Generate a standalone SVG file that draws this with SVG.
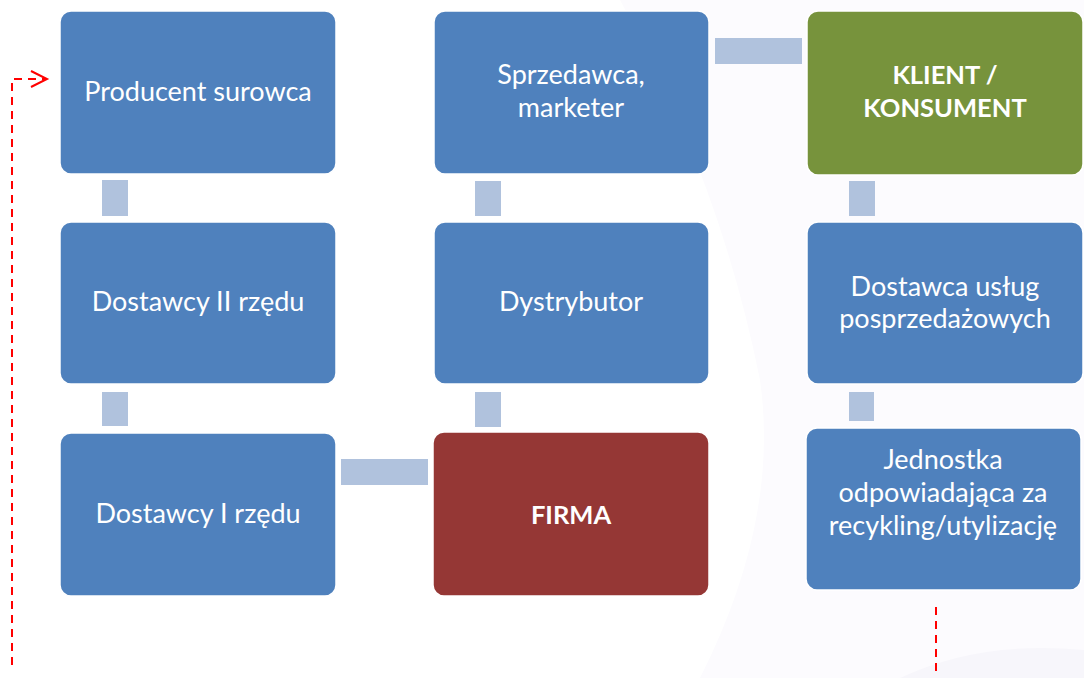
<svg xmlns="http://www.w3.org/2000/svg" width="1084" height="678" viewBox="0 0 1084 678">
<defs>
<style>
.box{stroke:#ffffff;stroke-width:1.5}
.blue{fill:#4f81bd}
.green{fill:#77933c}
.red{fill:#953735}
.con{fill:#b0c2dd}
.t{font-family:Lato,"Open Sans","Liberation Sans",sans-serif;font-size:27px;fill:#ffffff;text-anchor:middle}
.b{font-weight:bold;font-size:25.5px}
.dash{fill:none;stroke:#ff0000;stroke-width:2;stroke-dasharray:8,6}
</style>
</defs>
<rect width="1084" height="678" fill="#ffffff"/>
<path d="M620 0 L1084 0 L1084 678 L700 678 Q780 520 760 380 Q720 180 620 0 Z" fill="#fcfbfe"/>
<path d="M900 678 Q980 640 1084 650 L1084 678 Z" fill="#f7f6fb"/>
<g id="connectors">
<rect class="con" x="102" y="180" width="26" height="36"/>
<rect class="con" x="102" y="392" width="26" height="34"/>
<rect class="con" x="475" y="181" width="26" height="35"/>
<rect class="con" x="475" y="392" width="26" height="35"/>
<rect class="con" x="341" y="459" width="87" height="26"/>
<rect class="con" x="715" y="38" width="87" height="26"/>
<rect class="con" x="849" y="181" width="26" height="35"/>
<rect class="con" x="849" y="392" width="25" height="29"/>
<path class="dash" d="M12 665 L12 79 L45 79"/>
<path d="M31 71 L47 79 L31 87" fill="none" stroke="#ff0000" stroke-width="2"/>
<path class="dash" d="M936 607 L936 672"/>
</g>
<g id="producent">
<rect class="box blue" x="60" y="11" width="276" height="163" rx="11"/>
<text class="t" x="198" y="101">Producent surowca</text>
</g>
<g id="dostawcy2">
<rect class="box blue" x="60" y="222" width="276" height="162" rx="11"/>
<text class="t" x="198" y="311">Dostawcy II rzędu</text>
</g>
<g id="dostawcy1">
<rect class="box blue" x="60" y="433" width="276" height="163" rx="11"/>
<text class="t" x="198" y="523">Dostawcy I rzędu</text>
</g>
<g id="sprzedawca">
<rect class="box blue" x="434" y="11" width="275" height="163" rx="11"/>
<text class="t" x="571" y="84">Sprzedawca,</text>
<text class="t" x="571" y="117">marketer</text>
</g>
<g id="dystrybutor">
<rect class="box blue" x="434" y="222" width="275" height="162" rx="11"/>
<text class="t" x="571" y="311">Dystrybutor</text>
</g>
<g id="firma">
<rect class="box red" x="433" y="432" width="276" height="164" rx="11"/>
<text class="t b" x="571" y="524">FIRMA</text>
</g>
<g id="klient">
<rect class="box green" x="807" y="11" width="276" height="164" rx="11"/>
<text class="t b" x="945" y="84">KLIENT /</text>
<text class="t b" x="945" y="117">KONSUMENT</text>
</g>
<g id="dostawca-uslug">
<rect class="box blue" x="807" y="222" width="276" height="162" rx="11"/>
<text class="t" x="945" y="296">Dostawca usług</text>
<text class="t" x="945" y="328">posprzedażowych</text>
</g>
<g id="jednostka">
<rect class="box blue" x="806" y="428" width="275" height="162" rx="11"/>
<text class="t" x="943" y="469">Jednostka</text>
<text class="t" x="943" y="502">odpowiadająca za</text>
<text class="t" x="943" y="535">recykling/utylizację</text>
</g>
</svg>
